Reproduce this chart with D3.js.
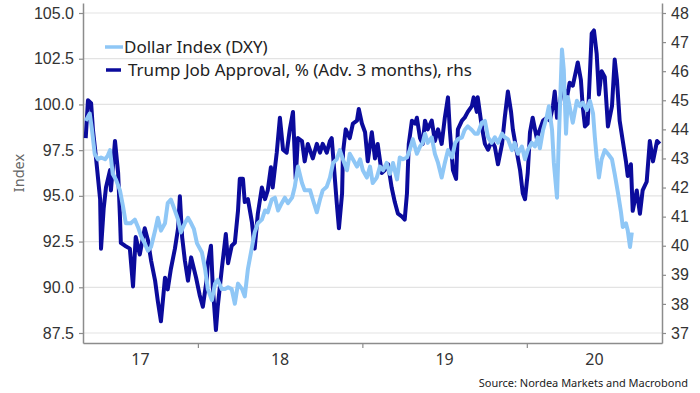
<!DOCTYPE html>
<html>
<head>
<meta charset="utf-8">
<script src="https://cdn.jsdelivr.net/npm/d3@7"></script>
<style>
  body { margin: 0; background: #fff; }
  svg { display: block; font-family: "Noto Sans", "Open Sans", sans-serif; }
</style>
</head>
<body>
<div id="chart"></div>
<script>
const dxyDates = [
    "2017-04-27","2017-05-06","2017-05-11","2017-05-17","2017-05-24","2017-05-31","2017-06-09","2017-06-15","2017-06-20","2017-06-26",
    "2017-07-03","2017-07-12","2017-07-19","2017-07-25","2017-08-05","2017-08-14","2017-08-21","2017-08-28","2017-09-05","2017-09-12",
    "2017-09-19","2017-09-28","2017-10-04","2017-10-11","2017-10-20","2017-10-26","2017-11-02","2017-11-11","2017-11-18","2017-11-24",
    "2017-12-03","2017-12-10","2017-12-17","2017-12-23","2017-12-30",
    "2018-01-10","2018-01-17","2018-01-23","2018-02-01","2018-02-08","2018-02-14","2018-02-23","2018-03-02","2018-03-09","2018-03-17",
    "2018-03-24","2018-03-31","2018-04-09","2018-04-15","2018-04-22","2018-05-01","2018-05-07","2018-05-14","2018-05-23","2018-05-30",
    "2018-06-05","2018-06-14","2018-06-21","2018-06-28","2018-07-06","2018-07-13","2018-07-20","2018-07-29","2018-08-04","2018-08-11",
    "2018-08-20","2018-08-26","2018-09-07","2018-09-13","2018-09-22","2018-09-29","2018-10-05","2018-10-14","2018-10-21","2018-10-28",
    "2018-11-05","2018-11-12","2018-11-19","2018-11-28","2018-12-04","2018-12-11","2018-12-20","2018-12-27",
    "2019-01-02","2019-01-11","2019-01-18","2019-01-24","2019-02-02","2019-02-09","2019-02-16","2019-02-24","2019-03-03","2019-03-10",
    "2019-03-19","2019-03-25","2019-04-01","2019-04-10","2019-04-16","2019-04-23","2019-05-02","2019-05-09","2019-05-15","2019-05-20",
    "2019-05-26","2019-06-04","2019-06-11","2019-06-18","2019-06-26","2019-07-03","2019-07-10","2019-07-19","2019-07-26","2019-08-01",
    "2019-08-10","2019-08-16","2019-08-23","2019-09-01","2019-09-08","2019-09-14","2019-09-23","2019-09-30","2019-10-07","2019-10-15",
    "2019-10-22","2019-10-29","2019-11-07","2019-11-13","2019-11-20","2019-11-29","2019-12-05","2019-12-12","2019-12-21","2019-12-28",
    "2020-01-03","2020-01-12","2020-01-19","2020-01-25","2020-01-30","2020-02-06","2020-02-14","2020-02-19","2020-02-26","2020-03-01",
    "2020-03-08","2020-03-12","2020-03-19","2020-03-23","2020-03-28","2020-04-01","2020-04-08","2020-04-12","2020-04-21","2020-04-28",
    "2020-05-04","2020-05-13","2020-05-20","2020-05-27","2020-05-31","2020-06-04","2020-06-09","2020-06-15","2020-06-22","2020-06-29",
    "2020-07-08","2020-07-14","2020-07-21","2020-07-28","2020-08-01","2020-08-08","2020-08-12","2020-08-17","2020-08-21"
];
const dxyValues = [
    99.1, 99.5, 98.6, 97.3, 97.0, 97.1, 97.0, 97.2, 97.5, 96.2,
    95.9, 95.3, 94.4, 93.5, 93.5, 93.7, 93.3, 92.8, 92.4, 92.0,
    92.2, 93.1, 93.8, 93.1, 93.5, 94.6, 94.8, 94.2, 93.7, 93.0,
    93.5, 93.8, 93.5, 93.2, 92.4,
    91.9, 91.0, 89.9, 89.3, 90.2, 90.4, 89.9, 89.9, 90.0, 89.9,
    89.1, 90.2, 89.9, 89.5, 91.0, 92.2, 93.0, 93.5, 93.7, 94.2,
    94.1, 94.8, 94.9, 94.2, 94.6, 94.9, 94.6, 94.9, 95.5, 96.6,
    95.7, 95.3, 95.3, 94.8, 94.1, 94.8, 95.3, 95.5, 96.0, 96.8,
    97.0, 97.5, 97.0, 96.4, 97.3, 97.0, 96.6, 97.0,
    96.4, 96.0, 96.6, 95.7, 96.0, 96.6, 96.4, 96.8, 96.2, 96.8,
    95.9, 97.1, 97.0, 97.1, 97.5, 98.1, 97.3, 97.7, 97.9, 98.4,
    97.9, 98.2, 97.3, 96.8, 96.0, 96.8, 97.5, 97.1, 97.9, 98.1,
    98.2, 98.6, 98.8, 98.6, 98.4, 98.4, 99.0, 99.1, 98.2, 97.9,
    98.2, 97.9, 98.4, 98.2, 98.1, 97.5, 97.9, 97.3, 97.7, 97.0,
    97.5, 97.9, 97.7, 98.2, 97.6, 98.6, 99.3, 99.9, 98.6, 96.8,
    94.9, 98.1, 103.0, 101.9, 98.4, 100.4, 99.5, 99.0, 100.2, 99.9,
    100.1, 99.7, 100.2, 99.5, 98.2, 97.1, 96.0, 97.0, 97.5, 97.3,
    97.0, 96.2, 95.2, 94.1, 93.3, 93.5, 93.1, 92.2, 93.0
];

// approval, plotted 3 months ahead
const approvalDates = [
    "2017-04-27","2017-05-02","2017-05-09","2017-05-13","2017-05-20","2017-05-29","2017-05-31","2017-06-06","2017-06-11","2017-06-20",
    "2017-06-22","2017-07-01","2017-07-08","2017-07-12","2017-07-14","2017-07-23","2017-08-03","2017-08-10","2017-08-16","2017-08-25",
    "2017-09-05","2017-09-12","2017-09-19","2017-09-28","2017-10-04","2017-10-11","2017-10-20","2017-10-26","2017-11-02","2017-11-11",
    "2017-11-18","2017-11-22","2017-11-27","2017-12-03","2017-12-10","2017-12-17","2017-12-28",
    "2018-01-05","2018-01-12","2018-01-21","2018-01-23","2018-01-30","2018-02-03","2018-02-10","2018-02-14","2018-02-23","2018-03-04",
    "2018-03-09","2018-03-17","2018-03-24","2018-03-31","2018-04-04","2018-04-11","2018-04-15","2018-04-22","2018-05-01","2018-05-07",
    "2018-05-14","2018-05-23","2018-05-30","2018-06-05","2018-06-12","2018-06-16","2018-06-25","2018-07-02","2018-07-09","2018-07-17",
    "2018-07-24","2018-07-31","2018-08-06","2018-08-11","2018-08-20","2018-08-26","2018-09-02","2018-09-13","2018-09-22","2018-09-29",
    "2018-10-05","2018-10-14","2018-10-21","2018-10-25","2018-10-30","2018-11-05","2018-11-10","2018-11-17","2018-11-19","2018-11-25",
    "2018-12-04","2018-12-11","2018-12-20","2018-12-24","2018-12-31",
    "2019-01-07","2019-01-13","2019-01-22","2019-01-29","2019-02-04","2019-02-13","2019-02-20","2019-02-27","2019-03-07","2019-03-14",
    "2019-03-21","2019-03-30","2019-04-05","2019-04-10","2019-04-14","2019-04-21","2019-04-28","2019-05-02","2019-05-09","2019-05-15",
    "2019-05-20","2019-05-26","2019-06-04","2019-06-11","2019-06-18","2019-06-26","2019-07-03","2019-07-10","2019-07-14","2019-07-21",
    "2019-07-28","2019-08-01","2019-08-10","2019-08-16","2019-08-23","2019-09-01","2019-09-05","2019-09-12","2019-09-14","2019-09-23",
    "2019-09-30","2019-10-07","2019-10-15","2019-10-22","2019-10-29","2019-11-07","2019-11-13","2019-11-20","2019-11-27","2019-12-01",
    "2019-12-10","2019-12-17","2019-12-23","2019-12-28",
    "2020-01-03","2020-01-08","2020-01-14","2020-01-23","2020-01-30","2020-02-06","2020-02-14","2020-02-21","2020-02-28","2020-03-03",
    "2020-03-08","2020-03-14","2020-03-21","2020-03-30","2020-04-05","2020-04-12","2020-04-19","2020-04-23","2020-04-30","2020-05-04",
    "2020-05-09","2020-05-15","2020-05-24","2020-05-29","2020-06-04","2020-06-09","2020-06-15","2020-06-22","2020-06-29","2020-07-08",
    "2020-07-14","2020-07-19","2020-07-25","2020-08-01","2020-08-08","2020-08-12","2020-08-19","2020-08-23","2020-09-01","2020-09-08",
    "2020-09-14","2020-09-23","2020-09-30","2020-10-07","2020-10-16","2020-10-22"
];
const approvalValues = [
    43.7, 45.0, 44.9, 44.0, 43.0, 41.6, 39.9, 41.3, 42.0, 42.6,
    41.9, 43.6, 42.5, 41.0, 40.1, 40.0, 39.9, 38.6, 40.3, 39.7,
    40.6, 40.2, 39.5, 38.8, 38.1, 37.4, 38.9, 38.5, 39.2, 39.9,
    40.6, 41.7, 40.3, 39.5, 38.8, 39.6, 38.9,
    38.3, 37.9, 38.9, 39.4, 40.0, 38.6, 37.1, 37.9, 39.2, 40.4,
    39.4, 40.0, 40.1, 41.2, 42.3, 42.3, 41.5, 41.6, 40.8, 39.9,
    41.1, 42.0, 41.6, 41.9, 42.7, 42.0, 43.2, 44.4, 43.3, 43.2,
    44.0, 44.6, 42.3, 43.7, 43.6, 42.9, 43.5, 43.0, 43.5, 43.2,
    43.5, 43.2, 43.6, 43.7, 42.7, 41.5, 40.6, 41.8, 43.2, 44.0,
    43.7, 44.2, 44.3, 44.7, 44.2,
    43.9, 42.9, 43.9, 43.0, 43.5, 42.5, 42.6, 42.8, 42.0, 41.5,
    41.1, 41.0, 40.9, 41.8, 43.5, 44.3, 44.2, 44.4, 43.7, 43.5,
    44.3, 44.0, 44.3, 43.6, 44.0, 43.5, 44.4, 45.1, 44.0, 42.6,
    42.3, 44.0, 44.3, 44.4, 44.6, 44.8, 45.1, 44.6, 45.1, 44.1,
    43.5, 43.3, 43.6, 43.4, 42.8, 43.5, 44.4, 45.3, 44.6, 44.0,
    43.2, 42.6, 41.8, 41.6,
    42.5, 43.9, 44.4, 43.7, 44.0, 44.3, 44.4, 44.3, 44.8, 45.3,
    44.4, 44.9, 45.5, 45.1, 45.6, 45.5, 46.0, 46.3, 45.7, 44.8,
    44.1, 44.2, 47.3, 47.4, 46.6, 45.2, 46.0, 45.8, 44.1, 44.8,
    46.4, 45.7, 44.3, 43.6, 42.9, 42.4, 42.8, 41.2, 41.9, 41.1,
    41.9, 42.2, 43.6, 42.9, 43.6, 43.5
];

const leftTicks = [87.5, 90.0, 92.5, 95.0, 97.5, 100.0, 102.5, 105.0];
const rightTicks = [37, 38, 39, 40, 41, 42, 43, 44, 45, 46, 47, 48];
const yearLabels = ["17", "18", "19", "20"];
const seriesNames = ["Dollar Index (DXY)", "Trump Job Approval, % (Adv. 3 months), rhs"];

const parseDate = d3.timeParse("%Y-%m-%d");
const dxy = dxyDates.map((d, i) => ({ date: parseDate(d), value: dxyValues[i] }));
const approval = approvalDates.map((d, i) => ({ date: parseDate(d), value: approvalValues[i] }));

const width = 700;
const height = 393;
const margin = { top: 3, right: 38, bottom: 50, left: 83 };
const plotRight = width - margin.right;
const plotBottom = height - margin.bottom;

const lightBlue = "#8fc7f6";
const navy = "#0b0b9c";
const axisColor = "#8c8c8c";

const svg = d3.select("#chart")
    .append("svg")
    .attr("width", width)
    .attr("height", height);

const x = d3.scaleTime()
    .domain([parseDate("2017-04-21"), parseDate("2020-10-27")])
    .range([margin.left, plotRight]);

// both axes run a bit past the outer ticks
const yLeft = d3.scaleLinear()
    .domain([86.953, 105.547])
    .range([plotBottom, margin.top]);

const yRight = d3.scaleLinear()
    .domain([36.656, 48.344])
    .range([plotBottom, margin.top]);

// grid
svg.append("g")
    .selectAll("line")
    .data(leftTicks)
    .enter()
    .append("line")
    .attr("x1", margin.left)
    .attr("x2", plotRight)
    .attr("y1", d => yLeft(d))
    .attr("y2", d => yLeft(d))
    .attr("stroke", "#e3e3e3")
    .attr("stroke-width", 1.2);

// left axis
const leftAxis = svg.append("g")
    .attr("transform", `translate(${margin.left},0)`)
    .call(d3.axisLeft(yLeft).tickValues(leftTicks).tickFormat(d3.format(".1f")).tickSize(4).tickSizeOuter(0).tickPadding(5));

// right axis
const rightAxis = svg.append("g")
    .attr("transform", `translate(${plotRight},0)`)
    .call(d3.axisRight(yRight).tickValues(rightTicks).tickSize(4).tickSizeOuter(0).tickPadding(5));

// bottom axis: ticks on year starts, labels centred in the visible part of each year
const [x0, x1] = x.domain();
const years = d3.timeYear.range(d3.timeYear.floor(x0), x1);
const bottomAxis = svg.append("g")
    .attr("transform", `translate(0,${plotBottom})`)
    .call(d3.axisBottom(x).tickValues(years.filter(d => d > x0)).tickFormat("").tickSize(5).tickSizeOuter(0));

svg.append("g")
    .selectAll("text")
    .data(years)
    .enter()
    .append("text")
    .attr("x", d => {
        const start = d < x0 ? x0 : d;
        const next = d3.timeYear.offset(d, 1);
        const end = next > x1 ? x1 : next;
        return (x(start) + x(end)) / 2;
    })
    .attr("y", plotBottom + 22)
    .attr("text-anchor", "middle")
    .attr("font-size", 16)
    .attr("fill", "#333")
    .text((d, i) => yearLabels[i]);

[leftAxis, rightAxis, bottomAxis].forEach(g => {
    g.select(".domain").attr("stroke", axisColor).attr("stroke-width", 1.5);
    g.selectAll(".tick line").attr("stroke", axisColor).attr("stroke-width", 1.2);
    g.selectAll(".tick text").attr("font-size", 16).attr("fill", "#333").attr("font-family", null);
});

svg.append("text")
    .attr("transform", `translate(19,${(margin.top + plotBottom) / 2}) rotate(-90)`)
    .attr("text-anchor", "middle")
    .attr("dy", "0.35em")
    .attr("font-size", 14.5)
    .attr("fill", "#666")
    .text("Index");

// lines
const lineLeft = d3.line()
    .x(d => x(d.date))
    .y(d => yLeft(d.value));

const lineRight = d3.line()
    .x(d => x(d.date))
    .y(d => yRight(d.value));

svg.append("path")
    .datum(approval)
    .attr("fill", "none")
    .attr("stroke", navy)
    .attr("stroke-width", 4)
    .attr("stroke-linejoin", "round")
    .attr("d", lineRight);

svg.append("path")
    .datum(dxy)
    .attr("fill", "none")
    .attr("stroke", lightBlue)
    .attr("stroke-width", 4)
    .attr("stroke-linejoin", "round")
    .attr("d", lineLeft);

// legend
const legend = svg.append("g");
const legendItems = [
    { name: seriesNames[0], color: lightBlue, x1: 105, x2: 123, y: 47, tx: 124 },
    { name: seriesNames[1], color: navy, x1: 106, x2: 121, y: 70, tx: 128 }
];

legendItems.forEach(d => {
    legend.append("line")
        .attr("x1", d.x1)
        .attr("x2", d.x2)
        .attr("y1", d.y)
        .attr("y2", d.y)
        .attr("stroke", d.color)
        .attr("stroke-width", 3.5);
    legend.append("text")
        .attr("x", d.tx)
        .attr("y", d.y)
        .attr("dy", "0.35em")
        .attr("font-size", 17)
        .attr("fill", "#222")
        .text(d.name);
});

svg.append("text")
    .attr("x", 688)
    .attr("y", 387)
    .attr("text-anchor", "end")
    .attr("font-size", 11)
    .attr("fill", "#222")
    .text("Source: Nordea Markets and Macrobond");
</script>
</body>
</html>
